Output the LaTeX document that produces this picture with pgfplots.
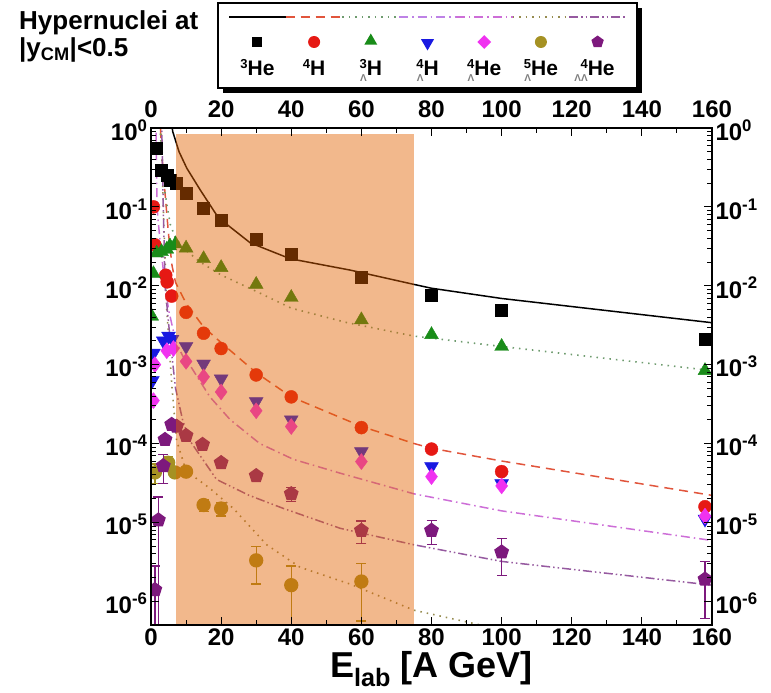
\documentclass[border=0pt]{standalone}
\usepackage{fontspec}
\setmainfont{Liberation Sans}
\usepackage{pgfplots}
\pgfplotsset{compat=1.18}
\usetikzlibrary{shapes.geometric}

\definecolor{cred}{RGB}{230,25,20}
\definecolor{cgreen}{RGB}{25,140,25}
\definecolor{cblue}{RGB}{25,25,225}
\definecolor{cmag}{RGB}{240,50,240}
\definecolor{cgold}{RGB}{165,145,35}
\definecolor{cpurp}{RGB}{125,25,125}
\definecolor{lred}{RGB}{225,85,60}
\definecolor{lgreen}{RGB}{110,155,110}
\definecolor{lmag}{RGB}{205,110,215}
\definecolor{lmagb}{RGB}{190,130,230}
\definecolor{lgold}{RGB}{150,140,80}
\definecolor{lpurp}{RGB}{150,90,160}
\definecolor{shadec}{RGB}{226,97,0}

\newcommand{\nuc}[3]{{\fontsize{13}{13}\selectfont\raisebox{0.55em}{#1}}{\fontsize{10}{10}\selectfont\color{gray}\llap{\raisebox{-0.6em}{#2}}}#3}
\newcommand{\tenp}[1]{10\textsuperscript{#1}}

\tikzset{
  dashdot/.style={dash pattern=on 9pt off 4pt on 1.5pt off 4pt},
  dashdotdot/.style={dash pattern=on 9pt off 3pt on 1.5pt off 3pt on 1.5pt off 3pt},
  dotsty/.style={dash pattern=on 1.5pt off 5pt},
  dashsty/.style={dash pattern=on 9pt off 6pt},
}

\begin{document}
\begin{tikzpicture}
\path[use as bounding box] (0,0) rectangle (771pt,693pt);

\node[anchor=north west, align=left, inner sep=0pt,
      font=\fontsize{26}{27}\selectfont\bfseries] at (19pt,683pt)
  {Hypernuclei at\\|y\textsubscript{CM}|<0.5};

\begin{axis}[
  at={(151pt,68pt)}, anchor=south west, scale only axis,
  width=561pt, height=497pt,
  xmin=0, xmax=160, ymin=5e-7, ymax=1,
  ymode=log, clip marker paths=true,
  xtick={0,20,40,60,80,100,120,140,160}, minor x tick num=1,
  xticklabels={0,20,40,60,80,100,120,140,160},
  ytick={1e-6,1e-5,1e-4,1e-3,1e-2,1e-1,1},
  yticklabels={\tenp{-6},\tenp{-5},\tenp{-4},\tenp{-3},\tenp{-2},\tenp{-1},\tenp{0}},
  tick align=inside,
  major tick length=8pt, minor tick length=5pt,
  axis line style={line width=1.3pt},
  tick style={black, line width=0.9pt},
  ticklabel style={font=\fontsize{24}{24}\selectfont\bfseries},
  yticklabel style={yshift=-2pt},
  xlabel={E\textsubscript{lab} [A GeV]},
  xlabel style={font=\fontsize{36}{36}\selectfont\bfseries, inner sep=0pt, yshift=-2pt},
]
% model curves
\addplot[black, line width=1.5pt] coordinates {
(5.5,1.5) (6.2,0.9) (8,0.5) (10.2,0.31) (14,0.165) (19.2,0.073) (28.3,0.035) (39.7,0.022) (56.8,0.0158) (75,0.0104) (80,0.0093) (100,0.0069) (160,0.0034)};
\addplot[lred, line width=1.5pt, dashsty] coordinates {
(2.5,1.5) (2.8,0.8) (3.4,0.3) (4,0.15) (5,0.045) (6,0.018) (7,0.011) (10,0.006) (15,0.003) (20,0.0019) (30,0.00079) (40,0.00039) (60,0.000165) (75,1.0e-4) (80,8.7e-5) (100,6e-5) (160,2.2e-5)};
\addplot[lgreen, line width=1.6pt, dotsty] coordinates {
(2.3,1.5) (3,0.5) (4,0.15) (5.5,0.06) (7,0.04) (10,0.028) (14,0.02) (20,0.0137) (30,0.0085) (40,0.0052) (56,0.0034) (75,0.0023) (100,0.0017) (160,0.00084)};
\addplot[lmag, line width=1.5pt, dashdot] coordinates {
(1.4,1.5) (1.7,0.1) (2.5,0.04) (3.5,0.016) (5,0.005) (7,0.002) (9,0.0013) (11,0.001) (16.8,0.00039) (22.6,0.0002) (31,1.0e-4) (40.6,6.3e-5) (54,4.2e-5) (75,2.3e-5) (100,1.4e-5) (160,5.9e-6)};
\addplot[lgold, line width=1.6pt, dotsty] coordinates {
(2.8,1.5) (3.5,0.1) (4.5,0.005) (6,5e-4) (7.3,1.1e-4) (10,4.5e-5) (16.8,2.7e-5) (23.5,1.5e-5) (33,5.2e-6) (42.5,2.7e-6) (56.8,1.65e-6) (75,7.7e-7) (94,5e-7) (110,3e-7)};
\addplot[lpurp, line width=1.5pt, dashdotdot] coordinates {
(3,1.5) (3.5,0.1) (4,0.01) (5.5,0.002) (7,5e-4) (9,2e-4) (11,1.1e-4) (18.7,3.5e-5) (28,2.2e-5) (37.8,1.5e-5) (54,8.4e-6) (75,5.2e-6) (100,3.2e-6) (160,1.6e-6)};

% data points
\addplot[only marks, mark=square*, mark size=6pt, mark options={draw=black, fill=black}] coordinates {
(1.6,0.56) (3.0,0.29) (4.6,0.25) (5.6,0.22) (7.3,0.20) (10,0.147) (15,0.096) (20,0.068) (30,0.039) (40,0.025) (60,0.0127) (80,0.0077) (100,0.0049) (158,0.0021)};
\addplot[only marks, mark=*, mark size=6.5pt, mark options={draw=cred, fill=cred}] coordinates {
(0.7,0.10) (1.1,0.033) (4.2,0.0136) (4.6,0.0112) (5.9,0.0074) (10,0.0046) (15,0.0025) (20,0.0016) (30,0.00074) (40,0.00039) (60,0.000159) (80,8.5e-5) (100,4.4e-5) (158,1.58e-5)};
\addplot[only marks, mark=triangle*, mark size=8pt, mark options={draw=cgreen, fill=cgreen}] coordinates {
(0.2,0.0041) (0.7,0.0142) (1.6,0.026) (3.0,0.027) (4.5,0.029) (5.4,0.032) (7.0,0.034) (10,0.030) (15,0.022) (20,0.017) (30,0.0104) (40,0.0071) (60,0.0037) (80,0.0024) (100,0.0017) (158,0.00084)};
\addplot[only marks, mark=triangle*, mark size=8pt, mark options={draw=cblue, fill=cblue, rotate=180}] coordinates {
(0.4,0.00063) (0.7,0.0014) (3.5,0.0020) (5.0,0.0023) (6.0,0.0021) (10,0.0017) (15,0.00102) (20,0.00066) (30,0.00034) (40,0.00020) (60,7.9e-5) (80,5.1e-5) (100,3.1e-5) (158,1.1e-5)};
\addplot[only marks, mark=diamond*, mark size=8pt, mark options={draw=cmag, fill=cmag}] coordinates {
(0.7,0.00035) (1.1,0.0010) (4.5,0.0015) (6.4,0.0016) (10,0.0011) (15,0.00070) (20,0.00045) (30,0.00026) (40,0.000164) (60,5.9e-5) (80,3.8e-5) (100,2.9e-5) (158,1.2e-5)};
\addplot[only marks, mark=*, mark size=6.5pt, mark options={draw=cgold, fill=cgold}, draw=cgold, line width=1.3pt,
  error bars/y dir=both, error bars/y explicit,
  error bars/error bar style={draw=cgold, line width=1.3pt},
  error bars/error mark options={draw=cgold, line width=1.3pt, rotate=90, mark size=5pt}] coordinates {
(1.1,4.3e-5) +- (0,1.2e-5)
(4.9,5.7e-5) +- (0,1.2e-5)
(6.8,4.3e-5) +- (0,0.5e-5)
(10,4.4e-5) +- (0,0.5e-5)
(15,1.66e-5) +- (0,0.3e-5)
(20,1.5e-5) +- (0,0.3e-5)
(30,3.3e-6) +- (0,1.65e-6)
(40,1.6e-6) +- (0,1.2e-6)
(60,1.78e-6) +- (0,1.22e-6)};
\addplot[only marks, mark=pentagon*, mark size=7pt, mark options={draw=cpurp, fill=cpurp}, draw=cpurp, line width=1.3pt,
  error bars/y dir=both, error bars/y explicit,
  error bars/error bar style={draw=cpurp, line width=1.3pt},
  error bars/error mark options={draw=cpurp, line width=1.3pt, rotate=90, mark size=5pt}] coordinates {
(1.1,1.4e-6) +- (0,1.39e-6)
(2.1,1.07e-5) +- (0,1.03e-5)
(3.5,5.2e-5) +- (0,2.1e-5)
(4.0,1.12e-4) +- (0,0.12e-4)
(5.9,1.74e-4) +- (0,0.15e-4)
(7.3,1.65e-4) +- (0,0.15e-4)
(10,1.26e-4) +- (0,0.11e-4)
(14.7,9.7e-5) +- (0,0.85e-5)
(20,5.7e-5) +- (0,0.5e-5)
(30,3.9e-5) +- (0,0.4e-5)
(40,2.3e-5) +- (0,0.45e-5)
(60,7.9e-6) +- (0,2.55e-6)
(80,7.9e-6) +- (0,2.7e-6)
(100,4.2e-6) +- (0,2.1e-6)
(158,1.9e-6) +- (0,1.3e-6)};

% shaded energy range
\addplot[draw=none, fill=shadec, fill opacity=0.45] coordinates {(7,5e-7) (7,0.85) (75,0.85) (75,5e-7)};
\end{axis}

\begin{axis}[
  at={(151pt,68pt)}, anchor=south west, scale only axis,
  width=561pt, height=497pt,
  xmin=0, xmax=160, ymin=5e-7, ymax=1,
  ymode=log,
  xtick={0,20,40,60,80,100,120,140,160}, minor x tick num=1,
  xticklabels={0,20,40,60,80,100,120,140,160},
  ytick={1e-6,1e-5,1e-4,1e-3,1e-2,1e-1,1},
  yticklabels={\tenp{-6},\tenp{-5},\tenp{-4},\tenp{-3},\tenp{-2},\tenp{-1},\tenp{0}},
  tick align=inside,
  major tick length=8pt, minor tick length=5pt,
  axis line style={line width=1.3pt},
  tick style={black, line width=0.9pt},
  ticklabel style={font=\fontsize{24}{24}\selectfont\bfseries},
  xticklabel style={yshift=7pt},
  yticklabel style={yshift=-2pt},
  xticklabel pos=right, yticklabel pos=right,
]
\addplot[draw=none] coordinates {(10,1e-3)};
\end{axis}

% legend box
\fill[black] (223pt,600pt) rectangle (642pt,685pt);
\draw[black, line width=1.2pt, fill=white] (218pt,605pt) rectangle (637pt,690pt);
\draw[black, line width=1.5pt] (229pt,676pt) -- (285.7pt,676pt);
\draw[lred, line width=1.5pt, dashsty] (285.7pt,676pt) -- (342.4pt,676pt);
\draw[lgreen, line width=1.6pt, dotsty] (342.4pt,676pt) -- (399.1pt,676pt);
\draw[lmagb, line width=1.5pt, dashdot] (399.1pt,676pt) -- (455.8pt,676pt);
\draw[lmag, line width=1.5pt, dashdot] (455.8pt,676pt) -- (512.5pt,676pt);
\draw[lgold, line width=1.6pt, dotsty] (512.5pt,676pt) -- (569.2pt,676pt);
\draw[lpurp, line width=1.5pt, dashdotdot] (569.2pt,676pt) -- (625.9pt,676pt);
\node[rectangle, fill=black, minimum size=10pt, inner sep=0pt] at (257.4pt,651pt) {};
\node[circle, fill=cred, minimum size=12pt, inner sep=0pt] at (314.1pt,651pt) {};
\node[regular polygon, regular polygon sides=3, fill=cgreen, minimum size=15pt, inner sep=0pt] at (370.8pt,652pt) {};
\node[regular polygon, regular polygon sides=3, shape border rotate=180, fill=cblue, minimum size=15pt, inner sep=0pt] at (427.5pt,650pt) {};
\node[diamond, fill=cmag, minimum size=14pt, inner sep=0pt] at (484.2pt,651pt) {};
\node[circle, fill=cgold, minimum size=12pt, inner sep=0pt] at (540.9pt,651pt) {};
\node[regular polygon, regular polygon sides=5, fill=cpurp, minimum size=13pt, inner sep=0pt] at (597.6pt,651pt) {};
\begin{scope}[every node/.style={anchor=base, inner sep=0pt, font=\fontsize{21}{21}\selectfont\bfseries}]
\node at (257.4pt,617pt) {\nuc{3}{}{He}};
\node at (314.1pt,617pt) {\nuc{4}{}{H}};
\node at (370.8pt,617pt) {\nuc{3}{Λ}{H}};
\node at (427.5pt,617pt) {\nuc{4}{Λ}{H}};
\node at (484.2pt,617pt) {\nuc{4}{Λ}{He}};
\node at (540.9pt,617pt) {\nuc{5}{Λ}{He}};
\node at (597.6pt,617pt) {\nuc{4}{ΛΛ}{He}};
\end{scope}
\end{tikzpicture}
\end{document}
